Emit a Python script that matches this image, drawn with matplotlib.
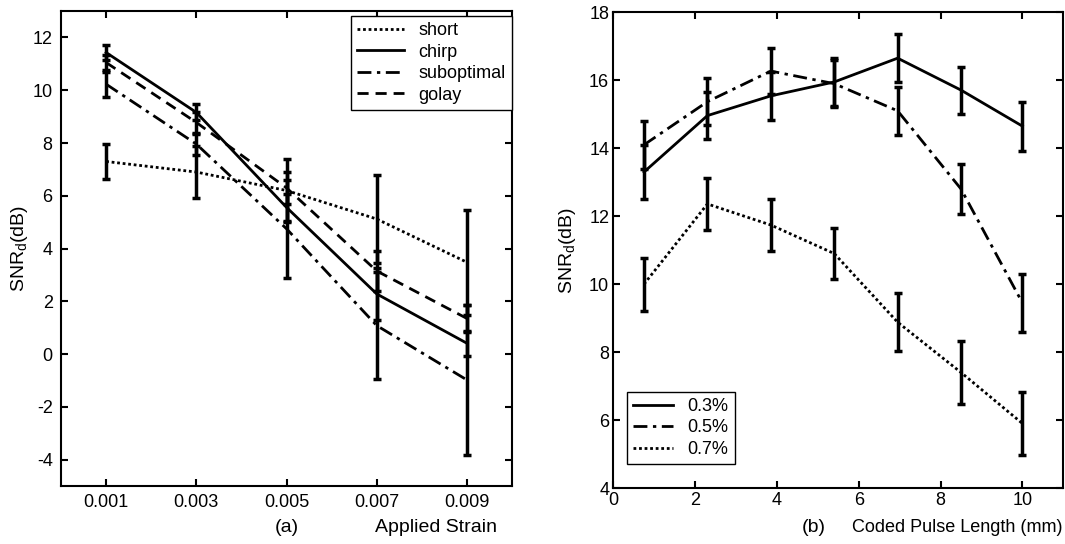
import matplotlib
matplotlib.use("Agg")
import matplotlib.pyplot as plt

plt.rcParams['font.family'] = ['Liberation Sans', 'DejaVu Sans']
plt.rcParams['mathtext.fontset'] = 'custom'
plt.rcParams['mathtext.rm'] = 'Liberation Sans'
plt.rcParams['axes.unicode_minus'] = False

# panel (a): SNR vs applied strain
strain = [0.001, 0.003, 0.005, 0.007, 0.009]
short = [7.3, 6.9, 6.2, 5.12, 3.48]
short_err = [0.67, 1.0, 1.2, 1.68, 2.0]
chirp = [11.43, 9.16, 5.56, 2.28, 0.41]
chirp_err = [0.3, 0.3, 0.5, 1.0, 0.47]
subopt = [10.23, 7.96, 4.75, 1.08, -0.98]
subopt_err = [0.48, 0.4, 1.85, 2.03, 2.85]
golay = [11.05, 8.78, 6.3, 3.15, 1.35]
golay_err = [0.3, 0.4, 0.6, 0.77, 0.5]

# panel (b): SNR vs coded pulse length
pulse_len = [0.75, 2.3, 3.85, 5.4, 6.95, 8.5, 10.0]
s03 = [13.3, 14.96, 15.54, 15.95, 16.65, 15.71, 14.65]
s03_err = [0.78, 0.7, 0.7, 0.7, 0.7, 0.69, 0.72]
s05 = [14.1, 15.37, 16.27, 15.9, 15.1, 12.8, 9.45]
s05_err = [0.7, 0.7, 0.68, 0.7, 0.7, 0.73, 0.85]
s07 = [10.0, 12.36, 11.74, 10.9, 8.88, 7.4, 5.9]
s07_err = [0.78, 0.76, 0.76, 0.76, 0.86, 0.93, 0.94]

dotted = (0, (1, 1))
dashdot = (0, (5, 2, 1.2, 2))
dashed = (0, (4, 2.5))

fig = plt.figure(figsize=(10.65, 5.44), dpi=100)
ax1 = fig.add_axes([0.0573, 0.1066, 0.4235, 0.873])
ax2 = fig.add_axes([0.5759, 0.1029, 0.4225, 0.8745])

eb = dict(fmt='none', ecolor='k', elinewidth=2.5, capsize=3, capthick=2.5)

for y, e, ls, lab in [(short, short_err, dotted, 'short'),
                      (chirp, chirp_err, '-', 'chirp'),
                      (subopt, subopt_err, dashdot, 'suboptimal'),
                      (golay, golay_err, dashed, 'golay')]:
    ax1.errorbar(strain, y, yerr=e, **eb)
    ax1.plot(strain, y, color='k', lw=2, linestyle=ls, label=lab)

ax1.set_xlim(0, 0.01)
ax1.set_ylim(-5, 13)
ax1.set_xticks(strain)
ax1.set_xticklabels(['0.001', '0.003', '0.005', '0.007', '0.009'])
ax1.set_yticks(range(-4, 13, 2))
ax1.legend(loc='upper right', bbox_to_anchor=(1.0, 0.99), fancybox=False,
           edgecolor='k', framealpha=1, fontsize=13, handlelength=2.6,
           borderaxespad=0.0, labelspacing=0.25, borderpad=0.35)

for y, e, ls, lab in [(s03, s03_err, '-', '0.3%'),
                      (s05, s05_err, dashdot, '0.5%'),
                      (s07, s07_err, dotted, '0.7%')]:
    ax2.errorbar(pulse_len, y, yerr=e, **eb)
    ax2.plot(pulse_len, y, color='k', lw=2, linestyle=ls, label=lab)

ax2.set_xlim(0, 11)
ax2.set_ylim(4, 18)
ax2.set_xticks(range(0, 11, 2))
ax2.set_yticks(range(4, 19, 2))
ax2.legend(loc='lower left', bbox_to_anchor=(0.03, 0.05), fancybox=False,
           edgecolor='k', framealpha=1, fontsize=13, handlelength=2.2,
           borderaxespad=0.0, labelspacing=0.25, borderpad=0.35)

for ax in (ax1, ax2):
    ax.tick_params(direction='in', top=True, right=True, length=5, width=1.5,
                   labelsize=13, pad=6)
    for s in ax.spines.values():
        s.set_linewidth(1.5)

ax1.set_ylabel(r'$\mathregular{SNR_d(dB)}$', fontsize=14, labelpad=2)
ax2.set_ylabel(r'$\mathregular{SNR_d(dB)}$', fontsize=14, labelpad=8)
ax2.tick_params(axis='both', pad=3)

fig.text(287 / 1065, 1 - 527 / 544, '(a)', ha='center', va='center', fontsize=14)
fig.text(497 / 1065, 1 - 527 / 544, 'Applied Strain', ha='right', va='center', fontsize=14)
fig.text(802 / 1065, 1 - 527 / 544, '(b)', ha='left', va='center', fontsize=14)
fig.text(1063 / 1065, 1 - 527 / 544, 'Coded Pulse Length (mm)', ha='right', va='center', fontsize=13)

fig.savefig('out.png', dpi=100)
